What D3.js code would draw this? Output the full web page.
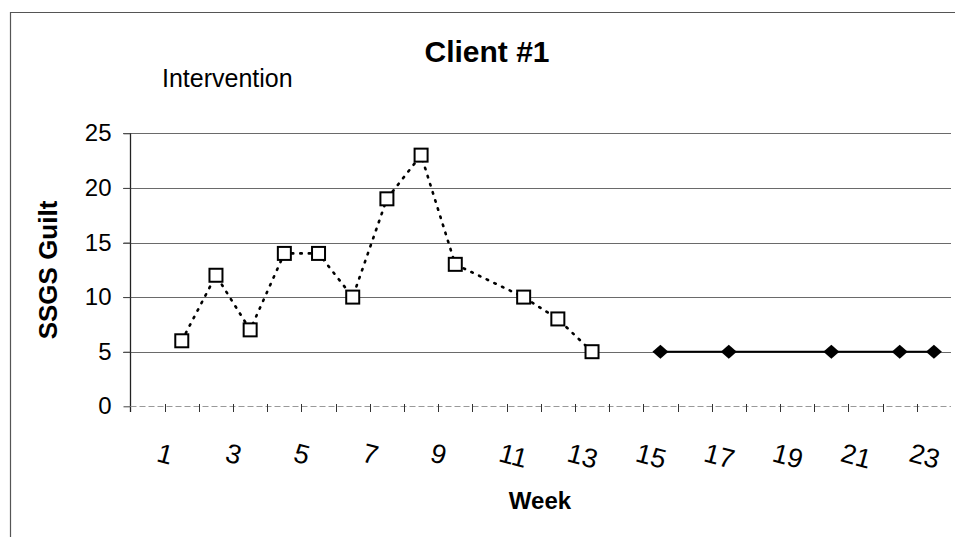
<!DOCTYPE html>
<html>
<head>
<meta charset="utf-8">
<script src="https://cdn.jsdelivr.net/npm/d3@7"></script>
<style>
  body { margin: 0; background: #fff; }
  svg { display: block; font-family: 'Liberation Sans', Arial, sans-serif; }
</style>
</head>
<body>
<script>
const svgWidth = 955; //Width of SVG.
const svgHeight = 537; //Height of SVG.

// Week categories along the x-axis, only odd weeks are labelled.
const weeks = [1, 2, 3, 4, 5, 6, 7, 8, 9, 10, 11, 12, 13, 14, 15, 16, 17, 18, 19, 20, 21, 22, 23, 24];
const weekLabels = [1, 3, 5, 7, 9, 11, 13, 15, 17, 19, 21, 23];

// Intervention phase (open squares, dotted line).
const interventionWeeks = [2, 3, 4, 5, 6, 7, 8, 9, 10, 12, 13, 14];
const interventionGuilt = [6, 12, 7, 14, 14, 10, 19, 23, 13, 10, 8, 5];

// Follow-up phase (filled diamonds, solid line).
const followWeeks = [16, 18, 21, 23, 24];
const followGuilt = [5, 5, 5, 5, 5];

const yTicks = [0, 5, 10, 15, 20, 25];

const interventionData = interventionWeeks.map((w, i) => ({ week: w, value: interventionGuilt[i] }));
const followData = followWeeks.map((w, i) => ({ week: w, value: followGuilt[i] }));

const svg = d3.select('body')
  .append('svg')
  .attr('width', svgWidth)
  .attr('height', svgHeight);

// Outer frame (only top and left edges show in the picture).
svg.append('path')
  .attr('d', 'M10.5,' + svgHeight + 'V12.5H' + svgWidth)
  .attr('fill', 'none')
  .attr('stroke', '#555')
  .attr('stroke-width', 1.2);

const xScale = d3.scaleBand()
  .domain(weeks)
  .range([130.5, 951])
  .paddingInner(0)
  .paddingOuter(0);

const yScale = d3.scaleLinear()
  .domain([0, 25])
  .range([406.3, 133.3]);

const bw = xScale.bandwidth();
const cx = (w) => xScale(w) + bw / 2;

// Horizontal gridlines.
svg.append('g')
  .selectAll('line')
  .data(yTicks.filter(d => d > 0))
  .enter()
  .append('line')
  .attr('x1', 123)
  .attr('x2', 951)
  .attr('y1', d => Math.round(yScale(d)) + 0.5)
  .attr('y2', d => Math.round(yScale(d)) + 0.5)
  .attr('stroke', '#6a6a6a')
  .attr('stroke-width', 1);

// y-axis
const yAxis = d3.axisLeft(yScale)
  .tickValues(yTicks)
  .tickSize(7)
  .tickPadding(12);

const gy = svg.append('g')
  .attr('transform', 'translate(130.5,0)')
  .call(yAxis);
gy.select('.domain').attr('d', 'M0,133.3V412').attr('stroke', '#222').attr('stroke-width', 1.3);
gy.selectAll('.tick line').attr('stroke', '#444');
gy.selectAll('.tick text')
  .attr('font-size', 24)
  .attr('font-family', "'Liberation Sans', Arial, sans-serif")
  .attr('fill', '#000');

// x-axis line and ticks at category boundaries.
svg.append('line')
  .attr('x1', 130.5)
  .attr('x2', 951)
  .attr('y1', 406.5)
  .attr('y2', 406.5)
  .attr('stroke', '#999')
  .attr('stroke-width', 1)
  .attr('stroke-dasharray', '6,3');

svg.append('g')
  .selectAll('line')
  .data(weeks.slice(1))
  .enter()
  .append('line')
  .attr('x1', d => Math.round(xScale(d)) + 0.5)
  .attr('x2', d => Math.round(xScale(d)) + 0.5)
  .attr('y1', 404)
  .attr('y2', 412)
  .attr('stroke', '#333')
  .attr('stroke-width', 1);

// Rotated week labels.
svg.append('g')
  .selectAll('text')
  .data(weekLabels)
  .enter()
  .append('text')
  .attr('transform', d => 'translate(' + (cx(d) + 8) + ',461) rotate(15)')
  .attr('font-size', 27)
  .attr('fill', '#000')
  .text(d => d);

// Lines
const line = d3.line()
  .x(d => cx(d.week))
  .y(d => yScale(d.value));

svg.append('path')
  .datum(interventionData)
  .attr('d', line)
  .attr('fill', 'none')
  .attr('stroke', '#000')
  .attr('stroke-width', 2.6)
  .attr('stroke-linecap', 'round')
  .attr('stroke-dasharray', '1.5,7');

svg.append('path')
  .datum(followData)
  .attr('d', line)
  .attr('fill', 'none')
  .attr('stroke', '#000')
  .attr('stroke-width', 2);

// Open squares
svg.append('g')
  .selectAll('rect')
  .data(interventionData)
  .enter()
  .append('rect')
  .attr('x', d => cx(d.week) - 6.5)
  .attr('y', d => yScale(d.value) - 6.5)
  .attr('width', 13)
  .attr('height', 13)
  .attr('fill', '#fff')
  .attr('stroke', '#000')
  .attr('stroke-width', 2);

// Filled diamonds
svg.append('g')
  .selectAll('path')
  .data(followData)
  .enter()
  .append('path')
  .attr('transform', d => 'translate(' + cx(d.week) + ',' + yScale(d.value) + ')')
  .attr('d', 'M0,-7L8,0L0,7L-8,0Z')
  .attr('fill', '#000');

// Titles
svg.append('text')
  .attr('x', 487)
  .attr('y', 62)
  .attr('text-anchor', 'middle')
  .attr('font-size', 30)
  .attr('font-weight', 'bold')
  .text('Client #1');

svg.append('text')
  .attr('x', 162)
  .attr('y', 87)
  .attr('font-size', 25)
  .text('Intervention');

svg.append('text')
  .attr('x', 540)
  .attr('y', 509)
  .attr('text-anchor', 'middle')
  .attr('font-size', 24)
  .attr('font-weight', 'bold')
  .text('Week');

svg.append('text')
  .attr('transform', 'translate(57,270) rotate(-90)')
  .attr('text-anchor', 'middle')
  .attr('font-size', 26)
  .attr('font-weight', 'bold')
  .text('SSGS Guilt');
</script>
</body>
</html>
